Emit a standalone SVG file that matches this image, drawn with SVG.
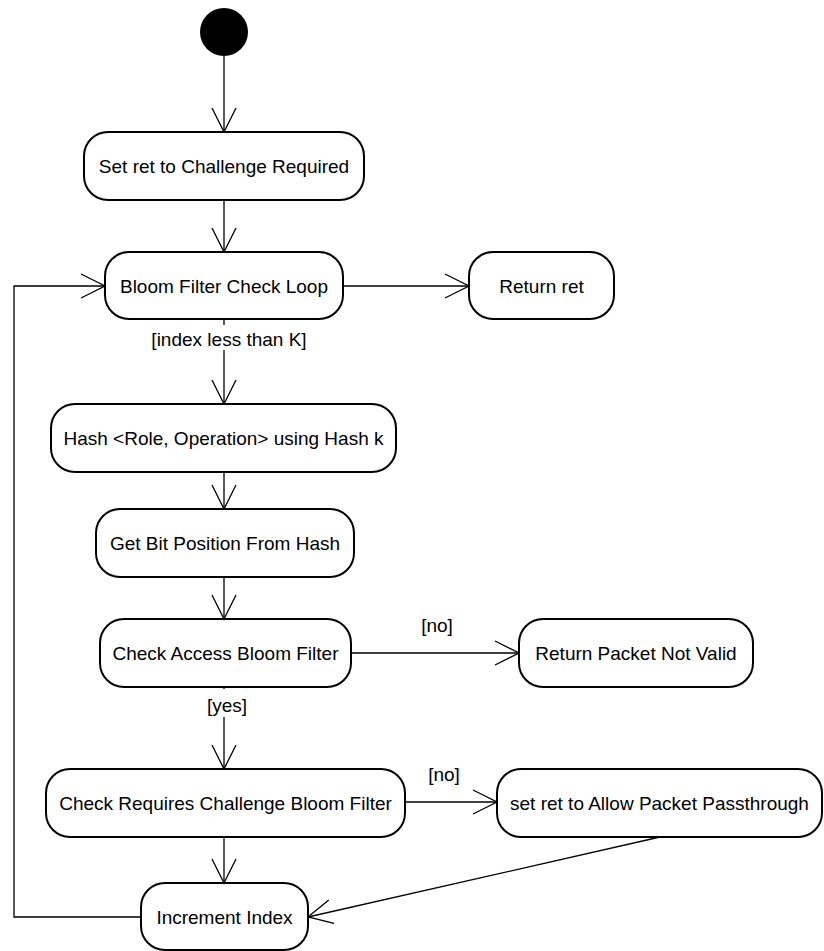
<svg xmlns="http://www.w3.org/2000/svg" width="824" height="951" viewBox="0 0 824 951">
  <style>
    .node rect { fill: #ffffff; stroke: #000000; stroke-width: 2; }
    .node text, .label { font-family: "Liberation Sans", Arial, sans-serif; font-size: 19px; fill: #000000; text-anchor: middle; }
    .edge { fill: none; stroke: #000000; stroke-width: 1.3; }
    .label-bg { fill: #ffffff; stroke: none; }
  </style>
  <defs>
    <marker id="open" viewBox="0 0 26 26" refX="25" refY="13" markerWidth="26" markerHeight="26" markerUnits="userSpaceOnUse" orient="auto">
      <path d="M1,1 L25,13 L1,25" fill="none" stroke="#000000" stroke-width="1.3"/>
    </marker>
  </defs>
  <rect x="0" y="0" width="824" height="951" fill="#ffffff"/>

  <!-- initial node -->
  <g id="start">
    <circle cx="224" cy="32" r="24" fill="#000000"/>
  </g>

  <g id="set-ret-challenge" class="node">
    <rect x="84" y="132" width="280" height="68" rx="24"/>
    <text x="224" y="173">Set ret to Challenge Required</text>
  </g>
  <g id="bloom-loop" class="node">
    <rect x="105" y="252" width="238" height="67" rx="24"/>
    <text x="224" y="293">Bloom Filter Check Loop</text>
  </g>
  <g id="return-ret" class="node">
    <rect x="469" y="252" width="145" height="67" rx="24"/>
    <text x="541.5" y="293">Return ret</text>
  </g>
  <g id="hash" class="node">
    <rect x="51" y="404" width="345" height="68" rx="24"/>
    <text x="223.5" y="445">Hash &lt;Role, Operation&gt; using Hash k</text>
  </g>
  <g id="bit-position" class="node">
    <rect x="96" y="509" width="258" height="68" rx="24"/>
    <text x="225" y="550">Get Bit Position From Hash</text>
  </g>
  <g id="check-access" class="node">
    <rect x="100" y="619" width="251" height="68" rx="24"/>
    <text x="225.5" y="660">Check Access Bloom Filter</text>
  </g>
  <g id="return-invalid" class="node">
    <rect x="519" y="619" width="234" height="68" rx="24"/>
    <text x="636" y="660">Return Packet Not Valid</text>
  </g>
  <g id="check-challenge" class="node">
    <rect x="46" y="769" width="359" height="68" rx="24"/>
    <text x="225.5" y="810">Check Requires Challenge Bloom Filter</text>
  </g>
  <g id="set-ret-allow" class="node">
    <rect x="497" y="769" width="325" height="68" rx="24"/>
    <text x="659.5" y="810">set ret to Allow Packet Passthrough</text>
  </g>
  <g id="increment" class="node">
    <rect x="141" y="883" width="167" height="67" rx="24"/>
    <text x="224.5" y="924">Increment Index</text>
  </g>

  <!-- control flows -->
  <g id="connectors">
    <path class="edge" d="M224,56 V132" marker-end="url(#open)"/>
    <path class="edge" d="M224,200 V252" marker-end="url(#open)"/>
    <path class="edge" d="M343,286 H469" marker-end="url(#open)"/>
    <path class="edge" d="M224,319 V404" marker-end="url(#open)"/>
    <path class="edge" d="M224,472 V509" marker-end="url(#open)"/>
    <path class="edge" d="M224,577 V619" marker-end="url(#open)"/>
    <path class="edge" d="M351,653 H519" marker-end="url(#open)"/>
    <path class="edge" d="M224,687 V769" marker-end="url(#open)"/>
    <path class="edge" d="M405,802 H497" marker-end="url(#open)"/>
    <path class="edge" d="M224,837 V883" marker-end="url(#open)"/>
    <path class="edge" d="M660,837 L308,917" marker-end="url(#open)"/>
    <path class="edge" d="M141,917 H14 V286 H105" marker-end="url(#open)"/>
    <!-- guard labels sit on a white backing over the flow line -->
    <rect class="label-bg" x="147" y="325" width="164" height="25"/>
    <text class="label" x="229" y="346">[index less than K]</text>
    <text class="label" x="437" y="632">[no]</text>
    <rect class="label-bg" x="202" y="689" width="50" height="28"/>
    <text class="label" x="227" y="712">[yes]</text>
    <text class="label" x="444" y="781">[no]</text>
  </g>
</svg>
